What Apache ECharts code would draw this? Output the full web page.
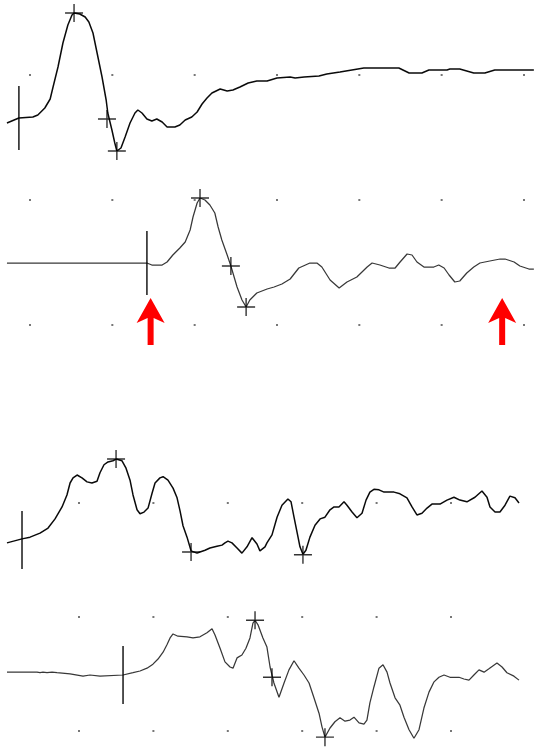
<!DOCTYPE html>
<html>
<head>
<meta charset="utf-8">
<script src="https://cdn.jsdelivr.net/npm/echarts@6/dist/echarts.min.js"></script>
<style>
  html, body { margin: 0; padding: 0; background: #fff; }
  #chart { width: 534px; height: 749px; }
</style>
</head>
<body>
<div id="chart"></div>
<script>
// ---- Recorded responses: [time in ms, amplitude] ----
// Upper pair: amplitude in mV
const traceA1 = [
  [-0.56,-0.20],[-0.27,0],[0.07,0.04],[0.19,0.12],[0.36,0.40],[0.49,0.76],[0.56,1.24],[0.68,2.04],
  [0.80,3.00],[0.92,3.72],[1.02,4.12],[1.07,4.20],[1.21,4.16],[1.34,4.04],[1.43,3.84],[1.53,3.40],
  [1.63,2.60],[1.75,1.64],[1.85,0.72],[1.89,0.20],[1.99,-0.48],[2.06,-1.00],[2.11,-1.32],[2.21,-1.20],
  [2.31,-0.76],[2.43,-0.20],[2.55,0.20],[2.62,0.32],[2.72,0.20],[2.84,-0.04],[2.96,-0.12],[3.08,-0.04],
  [3.21,-0.16],[3.33,-0.36],[3.52,-0.36],[3.64,-0.28],[3.77,-0.08],[3.93,0.04],[4.06,0.24],[4.18,0.56],
  [4.30,0.80],[4.42,1.00],[4.62,1.16],[4.79,1.08],[4.93,1.12],[5.10,1.24],[5.30,1.40],[5.51,1.48],
  [5.76,1.48],[6.00,1.60],[6.32,1.64],[6.44,1.60],[6.66,1.64],[7.02,1.68],[7.21,1.76],[7.53,1.84],
  [7.82,1.92],[8.11,2.00],[8.96,2.00],[9.21,1.80],[9.52,1.80],[9.69,1.92],[10.13,1.92],[10.20,1.96],
  [10.44,1.96],[10.78,1.80],[11.05,1.80],[11.29,1.92],[12.24,1.92]
];
const traceA2 = [
  [-0.56,0],[2.84,0],[2.96,-0.08],[3.21,-0.08],[3.33,0.04],[3.47,0.32],[3.64,0.60],[3.77,0.84],
  [3.89,1.32],[3.96,1.84],[4.06,2.40],[4.13,2.60],[4.25,2.52],[4.37,2.32],[4.49,2.00],[4.57,1.44],
  [4.66,0.92],[4.79,0.32],[4.88,-0.12],[4.93,-0.40],[5.03,-0.96],[5.15,-1.48],[5.25,-1.76],[5.34,-1.48],
  [5.51,-1.20],[5.76,-1.04],[5.93,-0.96],[6.12,-0.84],[6.32,-0.64],[6.53,-0.20],[6.80,0],[6.97,0],
  [7.09,-0.16],[7.29,-0.68],[7.51,-1.00],[7.70,-0.76],[7.94,-0.56],[8.19,-0.16],[8.31,0],[8.50,-0.08],
  [8.72,-0.20],[8.87,-0.20],[8.99,0.04],[9.16,0.36],[9.28,0.32],[9.40,0.04],[9.57,-0.16],[9.81,-0.16],
  [9.93,-0.08],[10.06,-0.20],[10.18,-0.48],[10.32,-0.76],[10.44,-0.72],[10.61,-0.40],[10.78,-0.16],
  [10.93,0],[11.17,0.08],[11.42,0.16],[11.54,0.16],[11.76,0.04],[11.90,-0.12],[12.12,-0.24],[12.24,-0.24]
];
// Lower pair: amplitude in µV
const traceB1 = [
  [0.16,-5],[1.17,2],[1.71,5],[2.38,12],[2.92,21],[3.39,37],[3.86,58],[4.19,79],[4.40,100],[4.60,109],
  [4.87,114],[5.20,109],[5.54,102],[5.87,100],[6.21,103],[6.41,118],[6.68,132],[6.95,137],[7.28,139],
  [7.49,142],[7.89,139],[8.16,126],[8.43,105],[8.63,79],[8.90,53],[9.10,46],[9.37,49],[9.64,56],
  [9.91,82],[10.11,100],[10.44,109],[10.65,111],[10.98,105],[11.32,91],[11.59,74],[11.79,51],[11.99,25],
  [12.26,5],[12.53,-19],[12.93,-23],[13.13,-21],[13.47,-18],[13.80,-14],[14.27,-11],[14.61,-9],
  [14.81,-5],[15.01,-2],[15.28,-5],[15.62,-14],[15.95,-23],[16.29,-12],[16.63,4],[16.96,-7],[17.16,-19],
  [17.50,-12],[17.63,-5],[17.97,9],[18.31,40],[18.64,61],[19.04,72],[19.25,67],[19.45,40],[19.72,5],
  [19.85,-12],[20.05,-25],[20.25,-18],[20.52,5],[20.86,26],[21.20,37],[21.53,40],[21.87,53],[22.14,58],
  [22.47,58],[22.81,67],[23.01,61],[23.35,49],[23.68,39],[24.02,47],[24.29,70],[24.55,84],[24.82,89],
  [25.16,88],[25.50,84],[26.17,84],[26.57,81],[27.04,74],[27.38,58],[27.71,44],[28.05,47],[28.39,56],
  [28.72,63],[29.26,63],[29.73,70],[30.20,75],[30.60,70],[31.07,67],[31.61,75],[32.08,86],[32.42,75],
  [32.62,58],[32.96,49],[33.29,49],[33.63,61],[33.96,77],[34.30,74],[34.57,65]
];
const traceB2 = [
  [0.16,5],[2.18,5],[2.38,4],[2.58,5],[2.85,4],[3.19,5],[3.52,4],[4.40,2],[5.27,-2],[5.74,0],[6.41,-2],
  [7.96,0],[8.63,4],[9.10,7],[9.57,12],[9.97,19],[10.31,28],[10.65,40],[10.91,53],[11.12,65],[11.32,72],
  [11.65,68],[12.26,67],[12.66,65],[13.13,67],[13.60,74],[13.94,81],[14.14,70],[14.48,47],[14.81,23],
  [15.15,14],[15.35,12],[15.62,30],[15.95,35],[16.22,47],[16.49,65],[16.69,91],[16.83,96],[17.03,88],
  [17.36,65],[17.63,49],[17.84,14],[18.10,-14],[18.44,-39],[18.78,-14],[19.11,9],[19.45,25],[19.78,12],
  [20.12,0],[20.46,-14],[20.79,-40],[21.13,-67],[21.33,-91],[21.53,-109],[21.87,-93],[22.20,-82],
  [22.54,-75],[22.88,-81],[23.21,-79],[23.48,-74],[23.82,-84],[24.15,-86],[24.35,-79],[24.55,-49],
  [24.82,-21],[25.16,12],[25.43,18],[25.70,5],[25.90,-14],[26.24,-40],[26.57,-53],[26.84,-74],
  [27.18,-96],[27.51,-111],[27.85,-96],[28.18,-58],[28.52,-30],[28.86,-12],[29.19,-4],[29.53,0],
  [29.93,-4],[30.54,-4],[30.87,-7],[31.21,-9],[31.54,0],[31.88,9],[32.22,5],[32.55,11],[33.09,21],
  [33.43,14],[33.76,4],[34.23,-2],[34.57,-9]
];

// Latency cursors placed on each response: [ms, amplitude]
const cursorsA1 = [[1.07,4.20],[1.87,-0.04],[2.11,-1.32]];
const cursorsA2 = [[4.13,2.60],[4.88,-0.12],[5.25,-1.76]];
const cursorsB1 = [[7.49,142],[12.53,-21],[20.05,-26]];
const cursorsB2 = [[16.83,96],[17.97,-4],[21.53,-109]];

// Stimulus onset of each sweep (ms)
const stimA1 = [-0.27];
const stimA2 = [2.84];
const stimB1 = [1.17];
const stimB2 = [7.96];

// Marked times under the second upper sweep (ms)
const arrowTimesA2 = [2.93, 11.47];

// Reticle dot positions: time (ms) and amplitude division rows
const topDotTimes = [0, 2, 4, 6, 8, 10, 12];
const topDotRows = [0, 1, 2];
const botDotTimes = [5, 10, 15, 20, 25, 30];
const botDotRows = [0, 1, 2];

// ---- Display settings ----
const W = 534, H = 749;
const topSweep = { msPerDiv: 2, divPx: 82.33, originPx: 30 };
const botSweep = { msPerDiv: 5, divPx: 74.4, originPx: 4.6 };
const topGain = { perDiv: 5, divPx: 125, firstRowPx: 75 };   // mV / div
const botGain = { perDiv: 200, divPx: 114, firstRowPx: 503 }; // µV / div

const channels = [
  { data: traceA1, cursors: cursorsA1, stim: stimA1, sweep: topSweep, gain: topGain, basePx: 118, color: '#0a0a0a', width: 1.5, stimLen: 64 },
  { data: traceA2, cursors: cursorsA2, stim: stimA2, sweep: topSweep, gain: topGain, basePx: 263, color: '#383838', width: 1.25, stimLen: 64 },
  { data: traceB1, cursors: cursorsB1, stim: stimB1, sweep: botSweep, gain: botGain, basePx: 540, color: '#0a0a0a', width: 1.5, stimLen: 58 },
  { data: traceB2, cursors: cursorsB2, stim: stimB2, sweep: botSweep, gain: botGain, basePx: 675, color: '#383838', width: 1.25, stimLen: 58 }
];

const fullGrid = { left: 0, right: 0, top: 0, bottom: 0 };
function timeAxis(s, idx) {
  return {
    type: 'value', gridIndex: idx, show: false,
    min: -s.originPx / s.divPx * s.msPerDiv,
    max: (W - s.originPx) / s.divPx * s.msPerDiv
  };
}
function ampAxis(g, basePx, idx) {
  const perPx = g.perDiv / g.divPx;
  return { type: 'value', gridIndex: idx, show: false, min: -(H - basePx) * perPx, max: basePx * perPx };
}
function rowAxis(g, idx) {
  return {
    type: 'value', gridIndex: idx, show: false, inverse: true,
    min: -g.firstRowPx / g.divPx, max: (H - g.firstRowPx) / g.divPx
  };
}

const crossPath = 'path://M0,8.3H18V9.7H0Z M8.3,0H9.7V18H8.3Z';
const arrowPath = 'path://M14,0L28,25L17,20L17,47L11,47L11,20L0,25Z';

const grids = [], xAxes = [], yAxes = [], series = [];

// Reticle grids (upper and lower sections)
[[topSweep, topGain, topDotTimes, topDotRows], [botSweep, botGain, botDotTimes, botDotRows]].forEach(([s, g, times, rows]) => {
  const idx = grids.length;
  grids.push(fullGrid);
  xAxes.push(timeAxis(s, idx));
  yAxes.push(rowAxis(g, idx));
  const dots = [];
  rows.forEach(r => times.forEach(t => dots.push([t, r])));
  series.push({
    type: 'scatter', xAxisIndex: idx, yAxisIndex: idx, data: dots,
    symbol: 'rect', symbolSize: 2, itemStyle: { color: '#555' }, silent: true, z: 1
  });
});

// Sweeps
channels.forEach((c, k) => {
  const idx = grids.length;
  grids.push(fullGrid);
  xAxes.push(timeAxis(c.sweep, idx));
  yAxes.push(ampAxis(c.gain, c.basePx, idx));
  series.push({
    type: 'line', xAxisIndex: idx, yAxisIndex: idx, data: c.data,
    symbol: 'none', lineStyle: { color: c.color, width: c.width }, silent: true, z: 2
  });
  series.push({
    type: 'scatter', xAxisIndex: idx, yAxisIndex: idx, data: c.stim.map(t => [t, 0]),
    symbol: 'rect', symbolSize: [1.7, c.stimLen], itemStyle: { color: '#000' }, silent: true, z: 3
  });
  series.push({
    type: 'scatter', xAxisIndex: idx, yAxisIndex: idx, data: c.cursors,
    symbol: crossPath, symbolSize: 18, itemStyle: { color: '#000' }, silent: true, z: 4
  });
  if (k === 1) {
    series.push({
      type: 'scatter', xAxisIndex: idx, yAxisIndex: idx, data: arrowTimesA2.map(t => [t, 0]),
      symbol: arrowPath, symbolSize: [28, 47], symbolOffset: [0, 58.5],
      itemStyle: { color: '#ff0000', opacity: 1 }, silent: true, z: 5
    });
  }
});

const chart = echarts.init(document.getElementById('chart'), null, { renderer: 'canvas' });
chart.setOption({
  animation: false,
  backgroundColor: '#ffffff',
  grid: grids,
  xAxis: xAxes,
  yAxis: yAxes,
  series: series
});
</script>
</body>
</html>
